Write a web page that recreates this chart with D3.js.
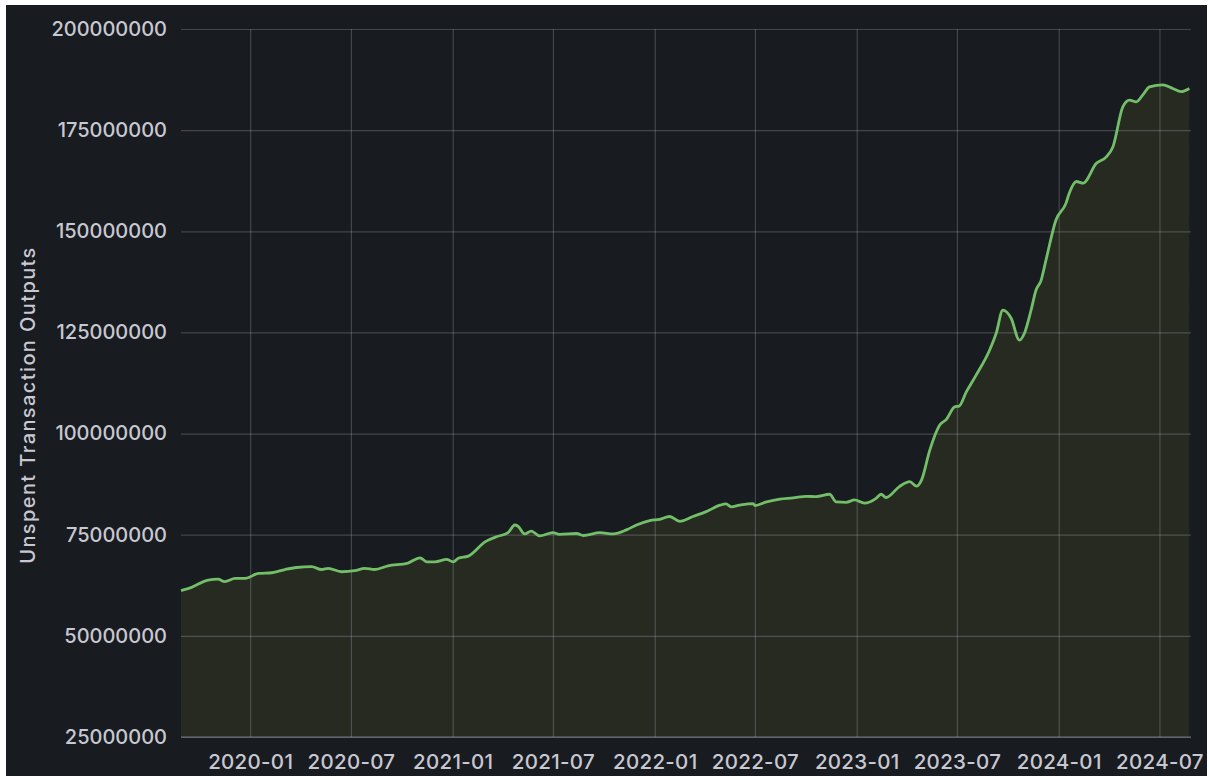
<!DOCTYPE html>
<html>
<head>
<meta charset="utf-8">
<script src="https://cdn.jsdelivr.net/npm/d3@7"></script>
<style>
  html, body { margin: 0; padding: 0; background: #ffffff; }
  svg { display: block; }
</style>
</head>
<body>
<svg id="chart" width="1209" height="776"></svg>
<script>
// ---- data ----
const dates = [
  "2019-08-29","2019-09-17","2019-10-17","2019-11-04","2019-11-16","2019-12-05","2019-12-23",
  "2020-01-16","2020-02-09","2020-03-04","2020-03-25","2020-04-21","2020-05-09","2020-05-21",
  "2020-06-14","2020-07-08","2020-07-26","2020-08-13","2020-09-06","2020-10-12","2020-11-03",
  "2020-11-15","2020-11-30","2020-12-21","2021-01-02","2021-01-11","2021-01-29","2021-03-01",
  "2021-03-21","2021-04-11","2021-04-23","2021-04-29","2021-05-11","2021-05-23","2021-06-07",
  "2021-07-01","2021-07-13","2021-08-13","2021-08-25","2021-09-24","2021-10-18","2021-11-11",
  "2021-11-29","2021-12-23","2022-01-10","2022-01-28","2022-02-15","2022-03-11","2022-04-04",
  "2022-04-29","2022-05-10","2022-05-19","2022-06-03","2022-06-28","2022-07-01","2022-07-22",
  "2022-08-15","2022-09-08","2022-10-02","2022-10-20","2022-11-13","2022-11-25","2022-12-13",
  "2022-12-28","2023-01-15","2023-02-05","2023-02-14","2023-02-23","2023-03-19","2023-04-07",
  "2023-04-19","2023-04-28","2023-05-13","2023-05-31","2023-06-12","2023-06-27","2023-07-05",
  "2023-07-18","2023-08-05","2023-08-29","2023-09-10","2023-09-22","2023-10-07","2023-10-22",
  "2023-10-31","2023-11-12","2023-11-21","2023-11-30","2023-12-09","2023-12-27","2024-01-14",
  "2024-01-20","2024-02-02","2024-02-14","2024-03-09","2024-03-27","2024-04-08","2024-04-26",
  "2024-05-08","2024-05-20","2024-06-01","2024-06-13","2024-07-07","2024-07-25","2024-08-09",
  "2024-08-24"
];
const utxoMillions = [
  61.2, 62.0, 63.8, 64.0, 63.4, 64.2, 64.2,
  65.45, 65.6, 66.4, 66.9, 67.1, 66.4, 66.7,
  65.85, 66.1, 66.7, 66.4, 67.3, 68.0, 69.3,
  68.3, 68.3, 68.9, 68.3, 69.2, 69.7, 73.3,
  74.5, 75.5, 77.4, 77.1, 75.2, 75.9, 74.7,
  75.5, 75.1, 75.3, 74.8, 75.5, 75.2, 76.2,
  77.4, 78.5, 78.8, 79.5, 78.3, 79.5, 80.7,
  82.3, 82.6, 81.9, 82.3, 82.7, 82.2, 83.1,
  83.8, 84.1, 84.5, 84.4, 85.0, 83.1, 83.0,
  83.6, 82.8, 84.0, 85.0, 84.2, 86.9, 88.1,
  87.0, 88.5, 95.9, 102.1, 103.5, 106.6, 106.8,
  110.3, 114.5, 120.6, 124.8, 130.5, 128.5, 123.1,
  124.8, 130.5, 135.5, 137.8, 142.9, 152.8, 156.9,
  159.4, 162.3, 161.9, 166.8, 168.4, 170.9, 180.8,
  182.4, 182.0, 183.7, 185.7, 186.2, 185.3, 184.5,
  185.3
];
const yTicks = [25000000, 50000000, 75000000, 100000000, 125000000, 150000000, 175000000, 200000000];
const xTickDates = ["2020-01-01","2020-07-01","2021-01-01","2021-07-01","2022-01-01","2022-07-01","2023-01-01","2023-07-01","2024-01-01","2024-07-01"];
const xDomain = ["2019-08-29", "2024-08-27"];
const yLabel = "Unspent Transaction Outputs";

// ---- build ----
const parse = d3.utcParse("%Y-%m-%d");
const data = dates.map((d, i) => ({ date: parse(d), value: utxoMillions[i] * 1e6 }));

const svg = d3.select("#chart");
const W = 1209, H = 776;
const plot = { left: 181, right: 1191, top: 29, bottom: 737 };

// panel background (white border around as in reference)
svg.append("rect").attr("x", 6).attr("y", 5).attr("width", W - 8).attr("height", H - 5)
  .attr("fill", "#181b1f");

const x = d3.scaleUtc().domain(xDomain.map(parse)).range([plot.left, plot.right]);
const y = d3.scaleLinear().domain([25000000, 200000000]).range([plot.bottom, plot.top]);

const gridColor = "rgba(204,204,220,0.24)";
const textColor = "#c8c8d2";
const font = "Inter, 'Open Sans', sans-serif";

// area fill
const area = d3.area().x(d => x(d.date)).y0(y(25000000)).y1(d => y(d.value)).curve(d3.curveMonotoneX);
svg.append("path").datum(data).attr("d", area).attr("fill", "#262a21");

// horizontal grid
const yAxis = d3.axisLeft(y).tickValues(yTicks).tickFormat(d3.format("d"))
  .tickSize(-(plot.right - plot.left)).tickPadding(14);
const gy = svg.append("g").attr("transform", `translate(${plot.left},0)`).call(yAxis);
gy.select(".domain").remove();
gy.selectAll(".tick line").attr("stroke", gridColor).attr("stroke-width", 1.2);
gy.selectAll(".tick text").attr("fill", textColor).attr("font-family", font)
  .attr("font-size", 20).attr("font-weight", 500);

// vertical grid + x labels
const xAxis = d3.axisBottom(x).tickValues(xTickDates.map(parse)).tickFormat(d3.utcFormat("%Y-%m"))
  .tickSize(-(plot.bottom - plot.top)).tickPadding(17);
const gx = svg.append("g").attr("transform", `translate(0,${plot.bottom})`).call(xAxis);
gx.select(".domain").remove();
gx.selectAll(".tick line").attr("stroke", gridColor).attr("stroke-width", 1.2);
gx.selectAll(".tick text").attr("fill", textColor).attr("font-family", font)
  .attr("font-size", 20.5).attr("font-weight", 500).attr("letter-spacing", 0.3);

// bottom baseline
svg.append("line").attr("x1", plot.left).attr("x2", plot.right)
  .attr("y1", y(25000000)).attr("y2", y(25000000))
  .attr("stroke", "rgba(204,204,220,0.3)").attr("stroke-width", 1.5);

// line
const line = d3.line().x(d => x(d.date)).y(d => y(d.value)).curve(d3.curveMonotoneX);
svg.append("path").datum(data).attr("d", line).attr("fill", "none")
  .attr("stroke", "#73bf69").attr("stroke-width", 2.8).attr("stroke-linejoin", "round");

// y axis title
svg.append("text").attr("transform", `translate(35,405) rotate(-90)`)
  .attr("text-anchor", "middle").attr("fill", textColor).attr("font-family", font)
  .attr("font-size", 20).attr("font-weight", 500).attr("letter-spacing", 1.4).text(yLabel);
</script>
</body>
</html>
